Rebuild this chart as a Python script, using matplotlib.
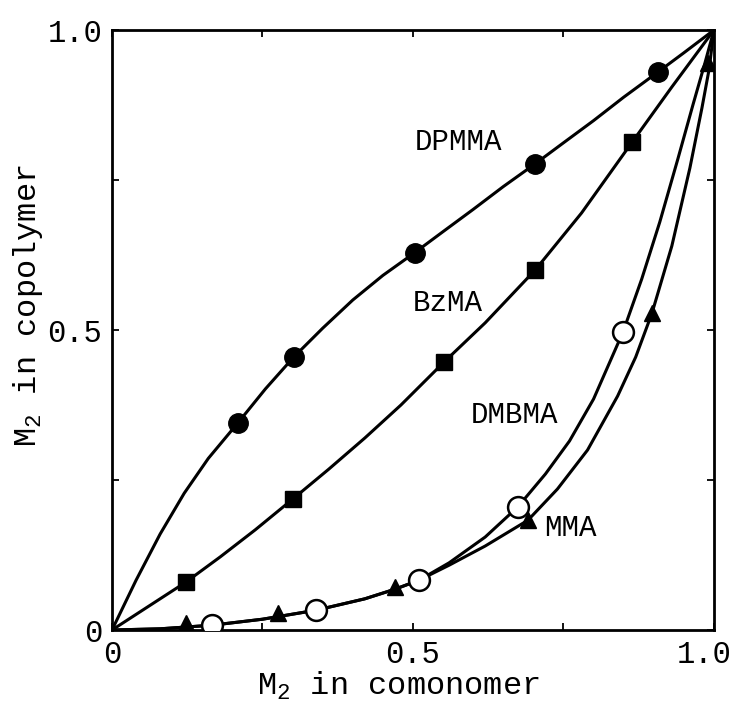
import matplotlib
matplotlib.use("Agg")
import matplotlib.pyplot as plt
import matplotlib.transforms as mtransforms

plt.rcParams['font.family'] = ['Liberation Mono', 'DejaVu Sans Mono']
plt.rcParams['mathtext.default'] = 'regular'

# measured points (M2 in comonomer, M2 in copolymer)
dpmma_x = [0.209, 0.302, 0.503, 0.703, 0.907]
dpmma_y = [0.345, 0.455, 0.628, 0.777, 0.930]
bzma_x = [0.123, 0.300, 0.552, 0.703, 0.864]
bzma_y = [0.080, 0.218, 0.447, 0.600, 0.813]
dmbma_x = [0.166, 0.339, 0.510, 0.674, 0.849]
dmbma_y = [0.008, 0.033, 0.083, 0.205, 0.497]
mma_x = [0.123, 0.275, 0.470, 0.691, 0.897, 0.990]
mma_y = [0.012, 0.028, 0.072, 0.183, 0.528, 0.945]

# fitted curves
dpmma_cx = [0, 0.04, 0.08, 0.12, 0.16, 0.209, 0.255, 0.302, 0.35, 0.40, 0.45, 0.503,
            0.55, 0.60, 0.65, 0.703, 0.75, 0.80, 0.85, 0.907, 0.95, 1.0]
dpmma_cy = [0, 0.083, 0.160, 0.228, 0.286, 0.345, 0.402, 0.455, 0.503, 0.550, 0.591, 0.629,
            0.664, 0.701, 0.739, 0.777, 0.812, 0.849, 0.888, 0.930, 0.962, 1.0]
bzma_cx = [0, 0.123, 0.18, 0.238, 0.300, 0.36, 0.42, 0.48, 0.552, 0.62, 0.703, 0.78, 0.864,
           0.93, 1.0]
bzma_cy = [0, 0.080, 0.122, 0.167, 0.218, 0.268, 0.320, 0.375, 0.447, 0.512, 0.600, 0.695,
           0.813, 0.905, 1.0]
dmbma_cx = [0, 0.08, 0.166, 0.25, 0.339, 0.42, 0.47, 0.510, 0.56, 0.62, 0.674, 0.72, 0.76,
            0.80, 0.849, 0.88, 0.91, 0.94, 0.965, 0.985, 1.0]
dmbma_cy = [0, 0.002, 0.008, 0.018, 0.033, 0.052, 0.068, 0.083, 0.112, 0.155, 0.205, 0.260,
            0.315, 0.385, 0.497, 0.585, 0.680, 0.785, 0.875, 0.945, 1.0]
mma_cx = [0, 0.08, 0.166, 0.25, 0.339, 0.42, 0.47, 0.510, 0.56, 0.62, 0.691, 0.74, 0.79,
          0.84, 0.87, 0.897, 0.93, 0.96, 0.98, 0.992, 1.0]
mma_cy = [0, 0.002, 0.008, 0.018, 0.033, 0.052, 0.068, 0.083, 0.108, 0.140, 0.183, 0.235,
          0.300, 0.390, 0.455, 0.528, 0.640, 0.770, 0.870, 0.935, 1.0]

labels = ["DPMMA", "BzMA", "DMBMA", "MMA"]
label_x = [0.575, 0.558, 0.669, 0.762]
label_y = [0.813, 0.545, 0.358, 0.170]

fig = plt.figure(figsize=(7.31, 7.11), dpi=100)
ax = fig.add_axes([0.1532, 0.1139, 0.8235, 0.8439])

lw = 2.2
for cx, cy in [(dpmma_cx, dpmma_cy), (bzma_cx, bzma_cy), (dmbma_cx, dmbma_cy), (mma_cx, mma_cy)]:
    ax.plot(cx, cy, color='black', lw=lw, solid_joinstyle='round', solid_capstyle='round', zorder=2)

ax.plot(dpmma_x, dpmma_y, 'o', ms=14, color='black', zorder=3)
ax.plot(bzma_x, bzma_y, 's', ms=12, color='black', zorder=3)
ax.plot(mma_x, mma_y, '^', ms=12, color='black', zorder=3)
ax.plot(dmbma_x, dmbma_y, 'o', ms=15, mfc='white', mec='black', mew=1.8, zorder=4)

for t, x, y in zip(labels, label_x, label_y):
    ax.text(x, y, t, fontsize=21, ha='center', va='center')

ax.set_xlim(0, 1)
ax.set_ylim(0, 1)
ax.set_xticks([0, 0.25, 0.5, 0.75, 1.0])
ax.set_xticklabels(["0", "", "0.5", "", "1.0"])
ax.set_yticks([0, 0.25, 0.5, 0.75, 1.0])
ax.set_yticklabels(["0", "", "0.5", "", "1.0"])
ax.tick_params(direction='in', length=5, width=1.3, top=True, right=True, labelsize=22, pad=7)
for s in ax.spines.values():
    s.set_linewidth(2)

# keep the last x tick label inside the canvas
last = ax.get_xticklabels()[-1]
last.set_transform(last.get_transform() + mtransforms.ScaledTranslation(-0.1, 0, fig.dpi_scale_trans))

ax.set_xlabel("$M_2$ in comonomer", fontsize=23, labelpad=0)
ax.set_ylabel("$M_2$ in copolymer", fontsize=23, labelpad=2)
ax.xaxis.label.set_x(0.475)
ax.yaxis.label.set_y(0.54)

fig.savefig("out.png", dpi=100)
